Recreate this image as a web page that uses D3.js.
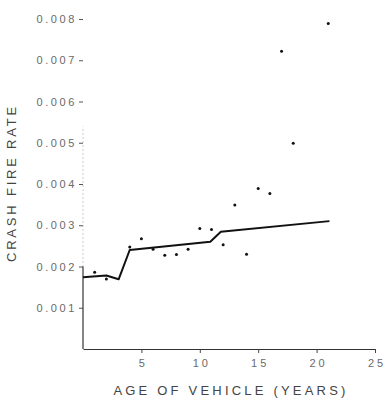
<!DOCTYPE html>
<html>
<head>
<meta charset="utf-8">
<script src="https://cdn.jsdelivr.net/npm/d3@7"></script>
<style>
  body { margin: 0; background: #fff; }
  svg { display: block; }
  .tick text { font-family: "Liberation Sans", Arial, sans-serif; fill: #6a6a6a; }
</style>
</head>
<body>
<div></div>
<script>
var width = 385, height = 400;

// scatter: observed crash fire rate by vehicle age
var ages  = [1, 2, 4, 5, 6, 7, 8, 9, 10, 11, 12, 13, 14, 15, 16, 17, 18, 21];
var rates = [0.00186, 0.0017, 0.00247, 0.00267, 0.00242, 0.00227, 0.00229, 0.00242,
             0.00292, 0.0029, 0.00253, 0.00349, 0.0023, 0.00389, 0.00377, 0.00722,
             0.00499, 0.00789];

// fitted line
var fitAges  = [0, 2, 3.05, 4, 10.9, 11.8, 21.1];
var fitRates = [0.00174, 0.00178, 0.00169, 0.0024, 0.0026, 0.00284, 0.0031];

var xTicks = [5, 10, 15, 20, 25];
var yTicks = [0.001, 0.002, 0.003, 0.004, 0.005, 0.006, 0.007, 0.008];

var x = d3.scaleLinear().domain([0, 25]).range([83, 375]);
var y = d3.scaleLinear().domain([0, 0.008]).range([349, 19]);

var svg = d3.select("div").append("svg")
    .attr("width", width)
    .attr("height", height);

// x axis
var xg = svg.append("g")
    .attr("transform", "translate(0," + y(0) + ")")
    .call(d3.axisBottom(x).tickValues(xTicks).tickSize(4).tickPadding(6).tickSizeOuter(0));
xg.select(".domain").attr("stroke", "#333").attr("stroke-width", 1.2);
xg.selectAll(".tick line").attr("stroke", "#444");
xg.selectAll(".tick text")
    .style("font-size", "11px")
    .style("letter-spacing", "3px")
    .attr("dx", "1.5px");

// y axis
var yg = svg.append("g")
    .attr("transform", "translate(" + x(0) + ",0)")
    .call(d3.axisLeft(y).tickValues(yTicks).tickFormat(d3.format(".3f"))
      .tickSize(4).tickPadding(2).tickSizeOuter(0));
yg.select(".domain").remove();
yg.selectAll(".tick line").attr("stroke", "#555");
yg.selectAll(".tick text")
    .style("font-size", "11px")
    .style("letter-spacing", "2.6px");

// axis line: solid near the bottom, faint above
svg.append("line")
    .attr("x1", x(0)).attr("x2", x(0))
    .attr("y1", y(0)).attr("y2", y(0.002))
    .attr("stroke", "#333").attr("stroke-width", 1.2);
svg.append("line")
    .attr("x1", x(0)).attr("x2", x(0))
    .attr("y1", y(0.002)).attr("y2", y(0.0054))
    .attr("stroke", "#999").attr("stroke-width", 1)
    .attr("stroke-dasharray", "1,3");

// fitted line
var line = d3.line()
    .x(function(d, i) { return x(fitAges[i]); })
    .y(function(d) { return y(d); });

svg.append("path")
    .datum(fitRates)
    .attr("d", line)
    .attr("fill", "none")
    .attr("stroke", "#111")
    .attr("stroke-width", 2)
    .attr("stroke-linejoin", "round");

// points
svg.append("g")
  .selectAll("circle")
    .data(rates)
  .enter().append("circle")
    .attr("cx", function(d, i) { return x(ages[i]); })
    .attr("cy", function(d) { return y(d); })
    .attr("r", 1.5)
    .attr("fill", "#111");

// titles
svg.append("text")
    .attr("x", (x.range()[0] + x.range()[1]) / 2 + 2)
    .attr("y", 395)
    .attr("text-anchor", "middle")
    .style("font-family", "Liberation Sans, Arial, sans-serif")
    .style("font-size", "13px")
    .style("letter-spacing", "3.2px")
    .style("fill", "#444")
    .text("AGE OF VEHICLE (YEARS)");

svg.append("text")
    .attr("transform", "translate(16,183) rotate(-90)")
    .attr("text-anchor", "middle")
    .style("font-family", "Liberation Sans, Arial, sans-serif")
    .style("font-size", "13px")
    .style("letter-spacing", "2.8px")
    .style("fill", "#444")
    .text("CRASH FIRE RATE");
</script>
</body>
</html>
